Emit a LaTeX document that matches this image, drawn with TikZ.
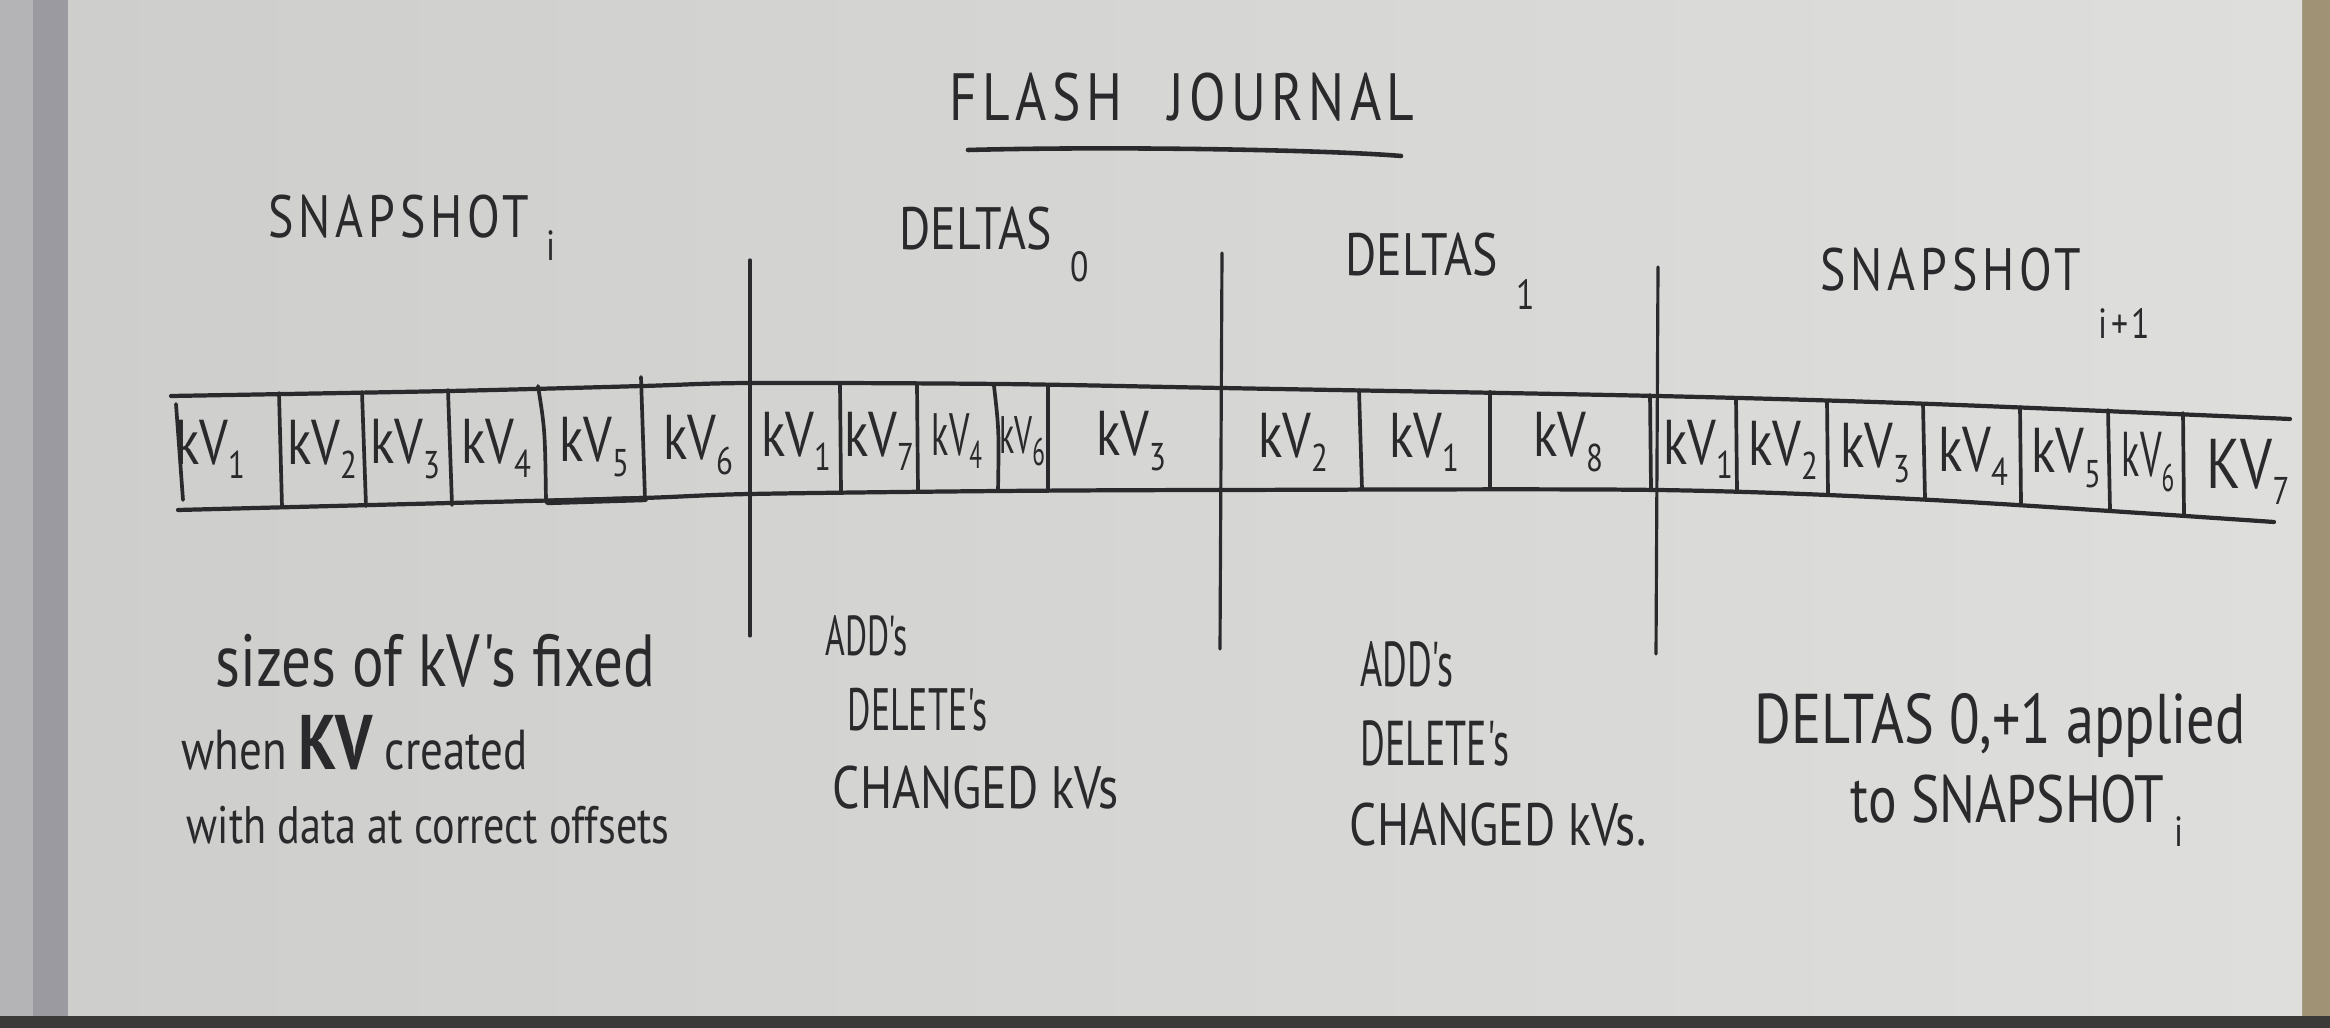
\documentclass[tikz,border=0pt]{standalone}
\usepackage{fontspec}
\newfontfamily\hand[FakeStretch=0.8]{PT Sans}
\newfontfamily\handnarrow[FakeStretch=0.6]{PT Sans}
\newfontfamily\handsnap[FakeStretch=0.8,LetterSpace=8]{PT Sans}
\newfontfamily\handwide[FakeStretch=0.8,LetterSpace=8]{PT Sans}
\definecolor{inkc}{HTML}{2A2A2C}
\definecolor{paperL}{HTML}{CECECC}
\definecolor{paperR}{HTML}{DEDEDC}
\definecolor{wallc}{HTML}{B4B4B6}
\definecolor{shadowc}{HTML}{9A9AA0}
\definecolor{deskc}{HTML}{A09274}
\definecolor{floorc}{HTML}{3C3A38}
% lowered index written after a word: [drop] {index}
\newcommand\lowidx[2][6pt]{\hspace{0.3em}\raisebox{-#1}{\fontsize{12}{12}\selectfont #2}}
\newcommand\kvsub[1]{\raisebox{-0.45ex}{\fontsize{11}{11}\selectfont #1}}
\begin{document}
\begin{tikzpicture}[x=0.01cm,y=-0.01cm,
  ink/.style={draw=inkc, line cap=round, line join=round},
  strip/.style={ink, line width=1.2pt},
  cellwall/.style={ink, line width=1.05pt},
  divider/.style={ink, line width=0.9pt},
  kv/.style={inner sep=0pt, text=inkc, font=\hand\fontsize{18}{18}\selectfont},
  hdr/.style={inner sep=0pt, text=inkc, anchor=base west, font=\hand\fontsize{17}{17}\selectfont},
  snaphdr/.style={hdr, font=\handsnap\fontsize{17}{17}\selectfont},
  note/.style={inner sep=0pt, text=inkc, anchor=west, font=\hand\fontsize{17}{17}\selectfont},
  slim/.style={note, font=\handnarrow\fontsize{17}{17}\selectfont},
  small/.style={note, font=\hand\fontsize{15}{15}\selectfont},
]
\useasboundingbox (0,0) rectangle (2330,1028);

% desk, wall and the sheet of paper
\fill[deskc] (0,0) rectangle (2330,1028);
\fill[wallc] (0,0) rectangle (68,1028);
\fill[shadowc] (33,0) rectangle (68,1028);
\shade[left color=paperL, right color=paperR] (68,0) rectangle (2302,1016);
\fill[floorc] (0,1016) rectangle (2330,1028);

% title
\node[inner sep=0pt, text=inkc, font=\handwide\fontsize{19}{19}\selectfont] (title) at (1182,97) {FLASH\hspace{0.7em}JOURNAL};
\coordinate (ulA) at (968,150);
\coordinate (ulB) at (1401,156);
\draw[ink, line width=1.3pt] (ulA) .. controls (1120,146) and (1330,150) .. (ulB);

% section headings
\node[snaphdr] (snapi) at (268,238) {SNAPSHOT\lowidx[6.5pt]{i}};
\node[hdr] (delta0) at (899,250) {DELTAS\lowidx[9pt]{0}};
\node[hdr] (delta1) at (1345,276) {DELTAS\lowidx[9.5pt]{1}};
\node[snaphdr] (snapn) at (1820,291) {SNAPSHOT\lowidx[13.5pt]{i+1}};

% journal strip outline
\draw[strip] plot[smooth] coordinates {(171,396) (450,391) (643,386) (750,383) (1000,384) (1221,388) (1657,396) (1932,404) (2290,419)};
\draw[strip] plot[smooth] coordinates {(178,510) (450,503) (643,498) (750,494) (1000,491) (1221,490) (1657,490) (1932,500) (2274,522)};

% section dividers
\coordinate (d1t) at (750,260);  \coordinate (d1b) at (750,636);
\coordinate (d2t) at (1222,253); \coordinate (d2b) at (1220,649);
\coordinate (d3t) at (1658,267); \coordinate (d3b) at (1656,654);
\draw[divider] (d1t) -- (d1b);
\draw[divider] (d2t) -- (d2b);
\draw[divider] (d3t) -- (d3b);

% cell walls, snapshot i
\draw[cellwall] (176,404) -- (183,500);
\draw[cellwall] (279,393) -- (282,507);
\draw[cellwall] (362,392) -- (366,506);
\draw[cellwall] (448,390) -- (452,505);
\draw[cellwall] (538,386) .. controls (545,430) .. (546,502);
\draw[cellwall] (641,377) -- (645,499);
\draw[ink, line width=1.8pt] (548,502) -- (645,499);
% cell walls, deltas 0
\draw[cellwall] (840,384) -- (841,492);
\draw[cellwall] (917,385) -- (918,491);
\draw[cellwall] (994,386) .. controls (999,430) .. (998,491);
\draw[cellwall] (1048,387) -- (1048,491);
% cell walls, deltas 1
\draw[cellwall] (1359,390) -- (1362,489);
\draw[cellwall] (1490,392) -- (1490,489);
\draw[cellwall] (1650,395) -- (1651,489);
% cell walls, snapshot i+1
\draw[cellwall] (1736,398) -- (1737,492);
\draw[cellwall] (1827,401) -- (1828,495);
\draw[cellwall] (1923,404) -- (1925,499);
\draw[cellwall] (2020,407) -- (2021,504);
\draw[cellwall] (2108,410) -- (2110,510);
\draw[cellwall] (2183,413) -- (2184,516);

% key/value entries
\node[kv] (a1) at (210,449) {kV\kvsub{1}};
\node[kv] (a2) at (322,449) {kV\kvsub{2}};
\node[kv] (a3) at (405,449) {kV\kvsub{3}};
\node[kv] (a4) at (496,448) {kV\kvsub{4}};
\node[kv] (a5) at (594,447) {kV\kvsub{5}};
\node[kv] (a6) at (698,445) {kV\kvsub{6}};

\node[kv] (b1) at (796,441) {kV\kvsub{1}};
\node[kv] (b2) at (879,441) {kV\kvsub{7}};
\node[kv, font=\handnarrow\fontsize{17}{17}\selectfont] (b3) at (957,441) {kV\kvsub{4}};
\node[kv, font=\handnarrow\fontsize{15}{15}\selectfont] (b4) at (1022,441) {kV\kvsub{6}};
\node[kv] (b5) at (1131,441) {kV\kvsub{3}};

\node[kv] (c1) at (1293,442) {kV\kvsub{2}};
\node[kv] (c2) at (1424,442) {kV\kvsub{1}};
\node[kv] (c3) at (1568,442) {kV\kvsub{8}};

\node[kv] (e1) at (1698,449) {kV\kvsub{1}};
\node[kv] (e2) at (1783,450) {kV\kvsub{2}};
\node[kv] (e3) at (1875,453) {kV\kvsub{3}};
\node[kv] (e4) at (1973,456) {kV\kvsub{4}};
\node[kv] (e5) at (2066,458) {kV\kvsub{5}};
\node[kv, font=\handnarrow\fontsize{18}{18}\selectfont] (e6) at (2148,462) {kV\kvsub{6}};
\node[kv, font=\hand\fontsize{20}{20}\selectfont] (e7) at (2248,472) {KV\kvsub{7}};

% notes under the strip
\node[note, font=\hand\fontsize{21}{21}\selectfont] (n1a) at (215,661) {sizes of kV's fixed};
\node[small, font=\hand\fontsize{16}{16}\selectfont] (n1b) at (181,743) {when \textbf{\fontsize{22}{22}\selectfont KV} created};
\node[small] (n1c) at (186,825) {with data at correct offsets};

\node[slim, font=\handnarrow\fontsize{16}{16}\selectfont] (n2a) at (825,636) {ADD's};
\node[slim] (n2b) at (847,710) {DELETE's};
\node[note] (n2c) at (832,788) {CHANGED kVs};

\node[slim, font=\handnarrow\fontsize{18}{18}\selectfont] (n3a) at (1360,664) {ADD's};
\node[slim, font=\handnarrow\fontsize{18}{18}\selectfont] (n3b) at (1360,743) {DELETE's};
\node[note] (n3c) at (1349,825) {CHANGED kVs.};

\node[note, font=\hand\fontsize{20}{20}\selectfont] (n4a) at (1754,725) {DELTAS 0,+1 applied};
\node[note, anchor=base west, font=\hand\fontsize{19}{19}\selectfont] (n4b) at (1850,822) {to SNAPSHOT\hspace{-0.15em}\lowidx[7pt]{i}};
\end{tikzpicture}
\end{document}
